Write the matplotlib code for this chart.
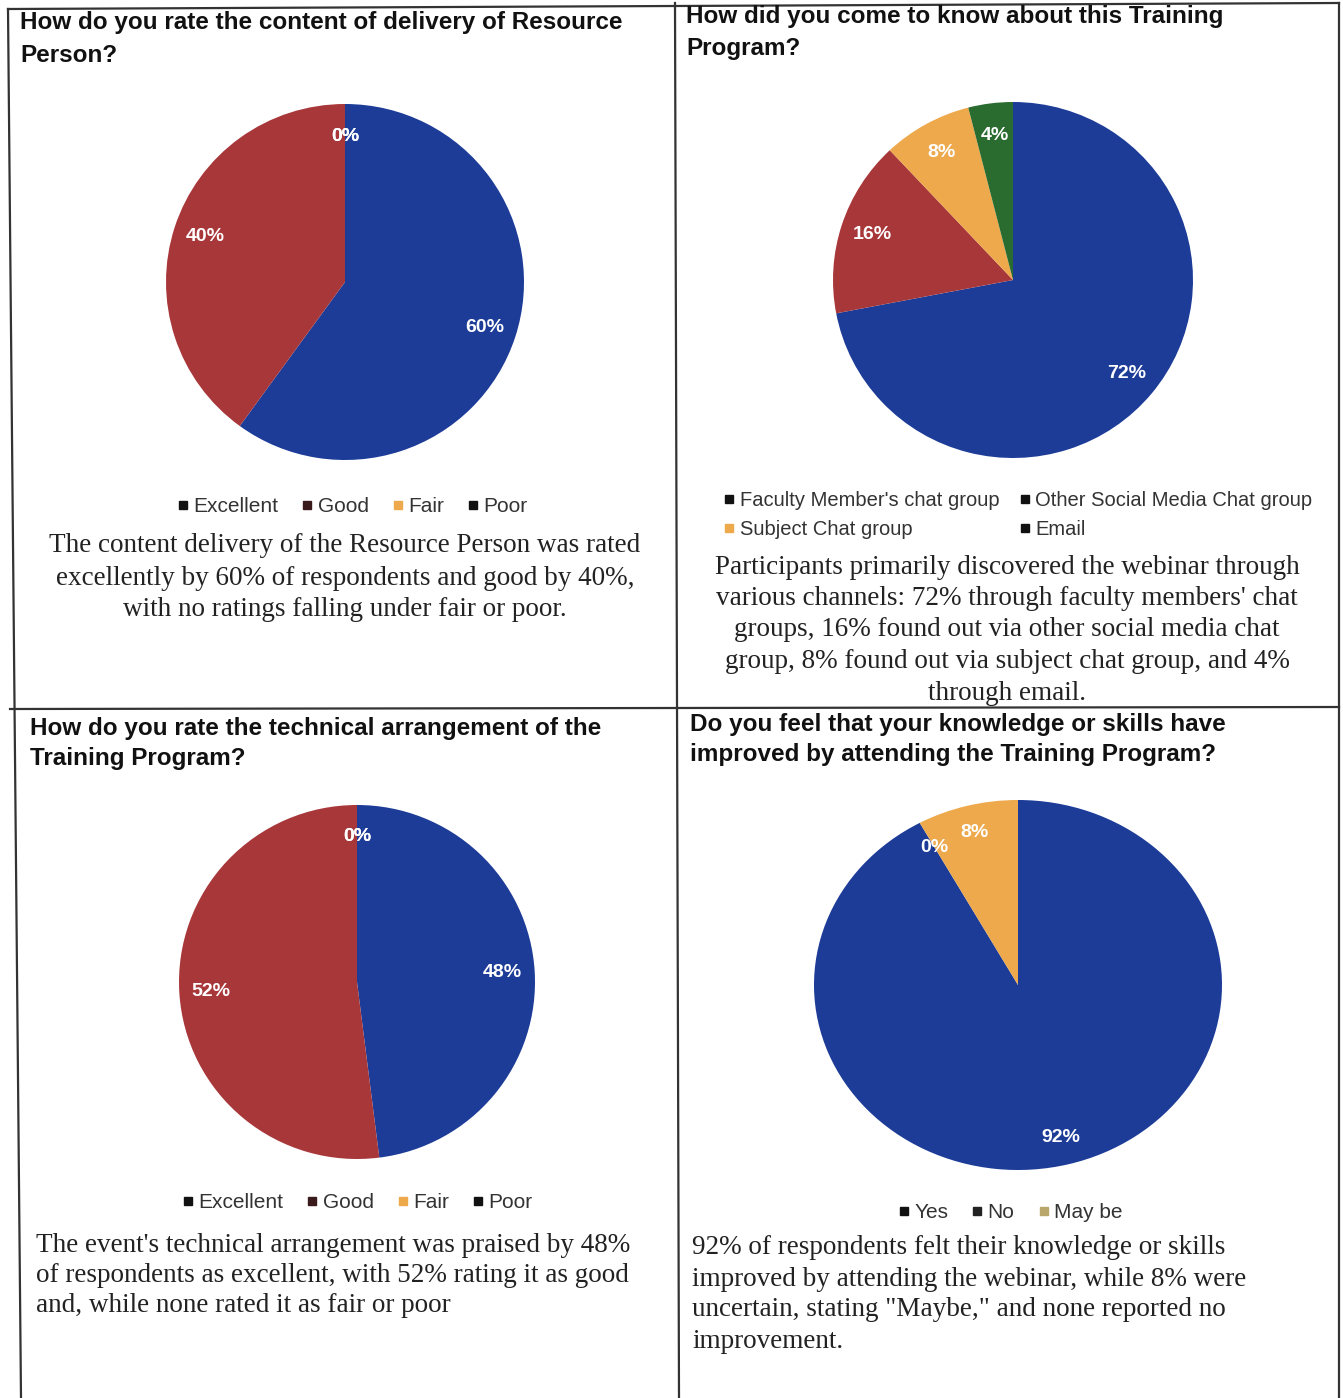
import matplotlib
matplotlib.use('Agg')
import matplotlib.pyplot as plt
from matplotlib.lines import Line2D

W, H = 1343, 1398

# ---- data ----
q1_labels = ['Excellent', 'Good', 'Fair', 'Poor']
q1_values = [60, 40, 0, 0]
q2_labels = ["Faculty Member's chat group", 'Other Social Media Chat group',
             'Subject Chat group', 'Email']
q2_values = [72, 16, 8, 4]
q3_labels = ['Excellent', 'Good', 'Fair', 'Poor']
q3_values = [48, 52, 0, 0]
q4_labels = ['Yes', 'No', 'May be']
q4_values = [92, 0, 8]

q1_title = ['How do you rate the content of delivery of Resource', 'Person?']
q2_title = ['How did you come to know about this Training', 'Program?']
q3_title = ['How do you rate the technical arrangement of the', 'Training Program?']
q4_title = ['Do you feel that your knowledge or skills have',
            'improved by attending the Training Program?']

q1_text = ['The content delivery of the Resource Person was rated',
           'excellently by 60% of respondents and good by 40%,',
           'with no ratings falling under fair or poor.']
q2_text = ['Participants primarily discovered the webinar through',
           "various channels: 72% through faculty members' chat",
           'groups, 16% found out via other social media chat',
           'group, 8% found out via subject chat group, and 4%',
           'through email.']
q3_text = ["The event's technical arrangement was praised by 48%",
           'of respondents as excellent, with 52% rating it as good',
           'and, while none rated it as fair or poor']
q4_text = ['92% of respondents felt their knowledge or skills',
           'improved by attending the webinar, while 8% were',
           'uncertain, stating "Maybe," and none reported no',
           'improvement.']

BLUE = '#1d3c98'
RED = '#a8373a'
ORANGE = '#eda94c'
GREEN = '#2a6b30'

SANS = ['Liberation Sans', 'DejaVu Sans']
SERIF = ['Liberation Serif', 'DejaVu Serif']


def fx(x):
    return x / W


def fy(y):
    return 1 - y / H


def pie_axes(fig, cx, cy, rx, ry, values, colors, pctd=0.82):
    ax = fig.add_axes([fx(cx - rx), fy(cy + ry), 2 * rx / W, 2 * ry / H])
    wedges, _, autotexts = ax.pie(values, colors=colors, startangle=90,
                                  counterclock=False, autopct='%1.0f%%',
                                  pctdistance=pctd, radius=1,
                                  wedgeprops=dict(linewidth=0))
    for t in autotexts:
        t.set_color('white')
        t.set_fontweight('bold')
        t.set_fontsize(14)
        t.set_family(SANS)
    ax.set_aspect('auto')
    ax.set_xlim(-1, 1)
    ax.set_ylim(-1, 1)
    ax.axis('off')
    return ax, autotexts


def add_lines(fig, lines, x, y0, step, **kw):
    for i, s in enumerate(lines):
        fig.text(fx(x), fy(y0 + i * step), s, va='center', **kw)


def add_legend(fig, labels, mcolors, x, y, ncol):
    handles = [Line2D([], [], marker='s', linestyle='none', color=c, markersize=6)
               for c in mcolors]
    fig.legend(handles, labels, loc='center', bbox_to_anchor=(fx(x), fy(y)),
               ncol=ncol, frameon=False, handlelength=0.6, handletextpad=0.2,
               columnspacing=1.1, prop={'family': SANS, 'size': 15},
               labelcolor='#333333')


fig = plt.figure(figsize=(W / 100, H / 100), dpi=100)

# ---- frame lines ----
frame = [((8, 9), (1339, 3)), ((8, 9), (21, 1398)), ((1339, 3), (1339, 1398)),
         ((10, 709), (1339, 707)), ((675, 3), (679, 1398))]
for (x0, y0), (x1, y1) in frame:
    fig.add_artist(Line2D([fx(x0), fx(x1)], [fy(y0), fy(y1)], color='#333333',
                          linewidth=1.6, transform=fig.transFigure))

# ---- Q1 ----
tkw = dict(family=SANS, fontweight='bold', fontsize=17.5, color='#111111')
bkw = dict(family=SERIF, fontsize=19.5, color='#222222')
add_lines(fig, q1_title, 20, 22, 33, ha='left', **tkw)
pie_axes(fig, 345, 282, 179, 178, q1_values, [BLUE, RED, ORANGE, BLUE])
add_legend(fig, q1_labels, ['#111111', '#3a1a1a', ORANGE, '#111111'], 352, 507, 4)
add_lines(fig, q1_text, 345, 546, 32, ha='center', **bkw)

# ---- Q2 ----
add_lines(fig, q2_title, 686, 17, 31, ha='left', **tkw)
pie_axes(fig, 1013, 280, 180, 178, q2_values, [BLUE, RED, ORANGE, GREEN])
handles = [Line2D([], [], marker='s', linestyle='none', color=c, markersize=5.5)
           for c in ['#111111', '#111111', ORANGE, '#111111']]
fig.legend([handles[0], handles[2], handles[1], handles[3]],
           [q2_labels[0], q2_labels[2], q2_labels[1], q2_labels[3]],
           loc='center', bbox_to_anchor=(fx(1018), fy(515)), ncol=2,
           frameon=False, handlelength=0.6, handletextpad=0.2, columnspacing=1.0,
           labelspacing=0.5, prop={'family': SANS, 'size': 14.5},
           labelcolor='#333333')
add_lines(fig, q2_text, 1007, 567, 31.5, ha='center', **bkw)

# ---- Q3 ----
add_lines(fig, q3_title, 30, 728, 31, ha='left', **tkw)
pie_axes(fig, 357, 982, 178, 177, q3_values, [BLUE, RED, ORANGE, BLUE])
add_legend(fig, q3_labels, ['#111111', '#3a1a1a', ORANGE, '#111111'], 357, 1203, 4)
add_lines(fig, q3_text, 36, 1245, 30.5, ha='left', **bkw)

# ---- Q4 ----
add_lines(fig, q4_title, 690, 725, 30, ha='left', **tkw)
pie_axes(fig, 1018, 985, 204, 185, q4_values, [BLUE, '#1d2a6b', ORANGE], pctd=0.85)
add_legend(fig, q4_labels, ['#111111', '#222222', '#b9a66a'], 1010, 1213, 3)
add_lines(fig, q4_text, 692, 1248, 31, ha='left', **bkw)

fig.savefig('out.png', dpi=100)
